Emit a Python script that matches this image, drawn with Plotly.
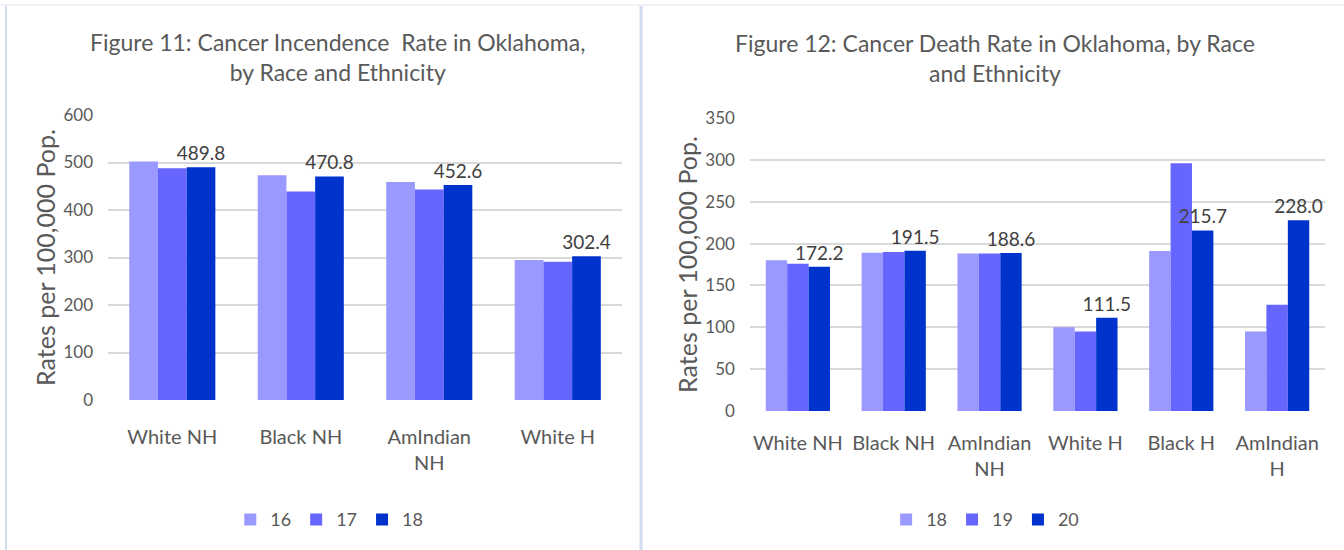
import plotly.graph_objects as go

# --- data -------------------------------------------------------------
inc_categories = ["White NH", "Black NH", "AmIndian<br>NH", "White H"]
inc_years = ["16", "17", "18"]
inc_16 = [502, 473, 459, 295]
inc_17 = [488, 439, 443, 291]
inc_18 = [489.8, 470.8, 452.6, 302.4]

death_categories = ["White NH", "Black NH", "AmIndian<br>NH", "White H", "Black H", "AmIndian<br>H"]
death_years = ["18", "19", "20"]
death_18 = [180, 189, 188, 100, 191, 95]
death_19 = [176, 190, 188, 95, 296, 127]
death_20 = [172.2, 191.5, 188.6, 111.5, 215.7, 228.0]

COLORS = ["#9999FF", "#6666FF", "#0033CC"]
GRID = "#D9D9D9"
TXT = "#595959"
FONT = "Lato, Open Sans, sans-serif"

fig = go.Figure()

def add_series(cats, series, names, xa, ya, legend):
    for i, (vals, name) in enumerate(zip(series, names)):
        last = i == len(series) - 1
        fig.add_trace(
            go.Bar(
                x=cats,
                y=vals,
                name=name,
                marker=dict(color=COLORS[i], line=dict(width=0)),
                xaxis=xa,
                yaxis=ya,
                legend=legend,
                text=[f"{v:.1f}" for v in vals] if last else None,
                textposition="outside" if last else "none",
                constraintext="none",
                textfont=dict(size=19, color="#404040", family=FONT),
                cliponaxis=False,
            )
        )

add_series(inc_categories, [inc_16, inc_17, inc_18], inc_years, "x", "y", "legend")
add_series(death_categories, [death_18, death_19, death_20], death_years, "x2", "y2", "legend2")

axis_common = dict(
    showgrid=False, showline=False, ticks="", zeroline=False, automargin=False,
    tickfont=dict(size=20, color=TXT, family=FONT),
)
yaxis_common = dict(
    showgrid=True, gridcolor=GRID, gridwidth=1.5, zeroline=False, showline=False,
    automargin=False, tickfont=dict(size=17, color=TXT, family=FONT), ticks="",
    ticklabelstandoff=14,
)
ytitle = dict(text="Rates per 100,000 Pop.", font=dict(size=25, color=TXT, family=FONT), standoff=0)
legend_common = dict(
    orientation="h", y=0.055, xanchor="center", yanchor="middle",
    font=dict(size=18, color=TXT, family=FONT), itemwidth=30,
    bgcolor="rgba(0,0,0,0)",
)

fig.update_layout(
    width=1344,
    height=550,
    margin=dict(l=0, r=0, t=0, b=0),
    paper_bgcolor="white",
    plot_bgcolor="white",
    font=dict(family=FONT, color=TXT),
    barmode="group",
    bargap=0.33,
    bargroupgap=0,
    showlegend=True,
    xaxis=dict(domain=[0.0804, 0.4628], anchor="y", ticklabelstandoff=23, **axis_common),
    yaxis=dict(domain=[0.2727, 0.7909], anchor="x", range=[0, 600], dtick=100,
               title=ytitle, **yaxis_common),
    xaxis2=dict(domain=[0.558, 0.9859], anchor="y2", ticklabelstandoff=18, **axis_common),
    yaxis2=dict(domain=[0.2527, 0.7855], anchor="x2", range=[0, 350], dtick=50,
                title=ytitle, **yaxis_common),
    legend=dict(x=0.245, **legend_common),
    legend2=dict(x=0.733, **legend_common),
    annotations=[
        dict(
            text="Figure 11: Cancer Incendence  Rate in Oklahoma,<br>by Race and Ethnicity",
            x=0.251, y=1 - 57 / 550, xref="paper", yref="paper",
            xanchor="center", yanchor="middle", showarrow=False,
            font=dict(size=23, color=TXT, family=FONT),
        ),
        dict(
            text="Figure 12: Cancer Death Rate in Oklahoma, by Race<br>and Ethnicity",
            x=0.740, y=1 - 58 / 550, xref="paper", yref="paper",
            xanchor="center", yanchor="middle", showarrow=False,
            font=dict(size=23, color=TXT, family=FONT),
        ),
    ],
    shapes=[
        dict(type="line", xref="paper", yref="paper", x0=6 / 1344, x1=6 / 1344, y0=0, y1=1 - 5 / 550,
             line=dict(color="#D0DCF0", width=2)),
        dict(type="line", xref="paper", yref="paper", x0=641 / 1344, x1=641 / 1344, y0=0, y1=1 - 5 / 550,
             line=dict(color="#D0DCF0", width=3)),
        dict(type="line", xref="paper", yref="paper", x0=0, x1=1, y0=1 - 5 / 550, y1=1 - 5 / 550,
             line=dict(color="#F0F2F8", width=2)),
    ],
)

# browser default body margin would shift the figure by 8px
fig.write_html(
    "out.html",
    config={"displayModeBar": False},
    post_script="document.body.style.margin='0';",
)
